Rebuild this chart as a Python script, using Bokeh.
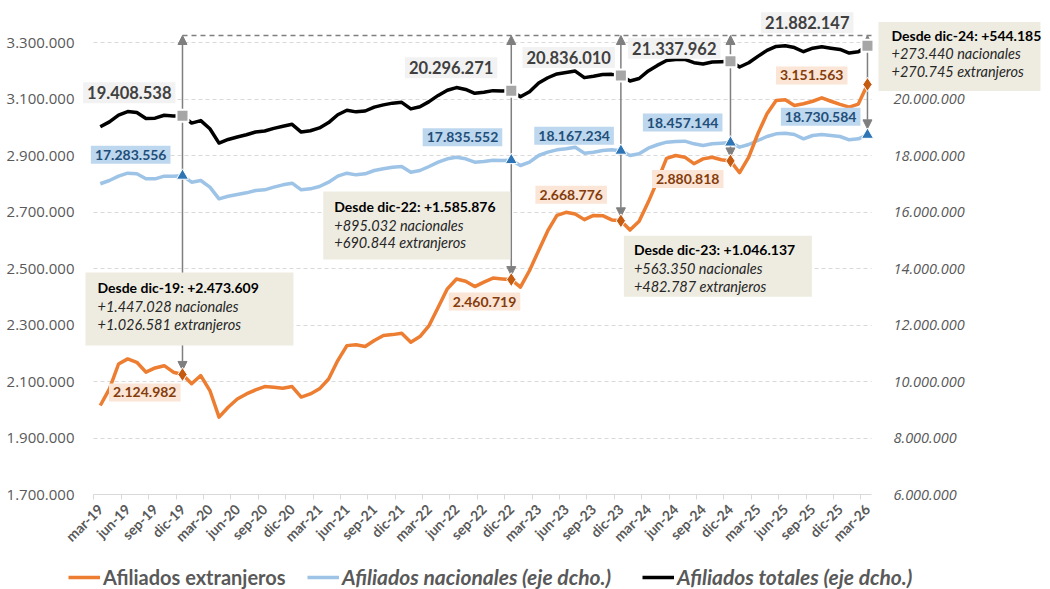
import math
from bokeh.plotting import figure
from bokeh.models import (Range1d, LinearAxis, FixedTicker, Grid, Label, BoxAnnotation,
                          Arrow, NormalHead, Legend, LegendItem)
from bokeh.embed import file_html
from bokeh.resources import INLINE

# ---------------- data ----------------
month_idx = list(range(85))  # mar-19 .. mar-26
tick_labels = ["mar-19", "jun-19", "sep-19", "dic-19", "mar-20", "jun-20", "sep-20", "dic-20",
               "mar-21", "jun-21", "sep-21", "dic-21", "mar-22", "jun-22", "sep-22", "dic-22",
               "mar-23", "jun-23", "sep-23", "dic-23", "mar-24", "jun-24", "sep-24", "dic-24",
               "mar-25", "jun-25", "sep-25", "dic-25", "mar-26"]

ext = [2015000, 2074000, 2162000, 2180000, 2168000, 2133000, 2148000, 2156000, 2133000, 2124982,
       2092000, 2121000, 2068000, 1974000, 2009000, 2038000, 2056000, 2070000, 2082000, 2080000,
       2076000, 2082000, 2045000, 2056000, 2074000, 2109000, 2174000, 2227000, 2230000, 2224000,
       2245000, 2263000, 2266000, 2271000, 2239000, 2259000, 2298000, 2363000, 2428000, 2463000,
       2455000, 2436000, 2452000, 2466000, 2463000, 2460719, 2434000, 2493000, 2564000, 2634000,
       2688000, 2699000, 2693000, 2673000, 2688000, 2687000, 2672000, 2668776, 2636000, 2667000,
       2735000, 2810000, 2890000, 2900000, 2894000, 2871000, 2888000, 2894000, 2885000, 2880818,
       2839000, 2894000, 2977000, 3048000, 3095000, 3097000, 3077000, 3083000, 3092000, 3104000,
       3092000, 3081000, 3071000, 3082000, 3151563]

nac = [17000000, 17115000, 17269000, 17375000, 17351000, 17174000, 17174000, 17269000, 17269000, 17283556,
       17056000, 17115000, 16879000, 16466000, 16559000, 16619000, 16678000, 16761000, 16785000, 16879000,
       16962000, 17021000, 16785000, 16820000, 16902000, 17056000, 17269000, 17375000, 17315000, 17351000,
       17469000, 17528000, 17587000, 17610000, 17410000, 17469000, 17610000, 17764000, 17882000, 17941000,
       17882000, 17764000, 17790000, 17830000, 17820000, 17835552, 17646000, 17764000, 18000000, 18118000,
       18200000, 18236000, 18295000, 18083000, 18118000, 18177000, 18200000, 18167234, 18000000, 18059000,
       18260000, 18380000, 18472000, 18495000, 18507000, 18413000, 18354000, 18413000, 18437000, 18457144,
       18295000, 18389000, 18531000, 18672000, 18767000, 18790000, 18743000, 18590000, 18708000, 18743000,
       18708000, 18672000, 18554000, 18590000, 18730584]

tot = [19015000, 19189000, 19431000, 19555000, 19519000, 19307000, 19322000, 19425000, 19402000, 19408538,
       19148000, 19236000, 18947000, 18440000, 18568000, 18657000, 18734000, 18831000, 18867000, 18959000,
       19038000, 19103000, 18830000, 18876000, 18976000, 19165000, 19443000, 19602000, 19545000, 19575000,
       19714000, 19791000, 19853000, 19881000, 19649000, 19728000, 19908000, 20127000, 20310000, 20404000,
       20337000, 20200000, 20242000, 20296000, 20283000, 20296271, 20080000, 20257000, 20564000, 20752000,
       20888000, 20935000, 20988000, 20756000, 20806000, 20864000, 20872000, 20836010, 20636000, 20726000,
       20995000, 21190000, 21362000, 21395000, 21401000, 21284000, 21242000, 21307000, 21322000, 21337962,
       21134000, 21283000, 21508000, 21720000, 21862000, 21887000, 21820000, 21673000, 21800000, 21847000,
       21800000, 21753000, 21625000, 21672000, 21882147]

left_ticks = [1700000, 1900000, 2100000, 2300000, 2500000, 2700000, 2900000, 3100000, 3300000]
right_ticks = [6000000, 8000000, 10000000, 12000000, 14000000, 16000000, 18000000, 20000000]

mark_idx = [9, 45, 57, 69, 84]

notes = {
    9: ["Desde dic-19: +2.473.609", "+1.447.028 nacionales", "+1.026.581 extranjeros"],
    45: ["Desde dic-22: +1.585.876", "+895.032 nacionales", "+690.844 extranjeros"],
    57: ["Desde dic-23: +1.046.137", "+563.350  nacionales", "+482.787 extranjeros"],
    69: ["Desde dic-24: +544.185", "+273.440  nacionales", "+270.745  extranjeros"],
}

# ---------------- layout constants (screen px -> data) ----------------
W, H = 1050, 589
PL, PR, PB = 93, 871, 494       # plot-area left / right / bottom pixel
PXM = 9.133                     # px per month
XL = -0.744                     # month index at the plot-area left edge
UPP = 1_600_000 / 452           # left-axis units per px
Y0, RY0 = 1_700_000, 6_000_000  # axis minimum at PB


def xv(px):
    return XL + (px - PL) / PXM


def yv(py):
    return Y0 + (PB - py) * UPP


def ryv(py):
    return RY0 + (PB - py) * UPP * 10


TOP, TOPR = yv(35), ryv(35)     # dashed reference line

FONT = "Lato"
GREY_TXT = "#595959"
ORANGE, LBLUE, BLACK = "#ED7D31", "#9DC3E6", "#000000"


def fmt(v):
    return f"{v:,}".replace(",", ".")


p = figure(width=W, height=H, title=None, x_range=Range1d(xv(0), xv(W)),
           y_range=Range1d(yv(H), yv(0)), output_backend="svg", toolbar_location=None,
           x_axis_type=None, y_axis_type=None, min_border=0)
p.extra_y_ranges = {"r": Range1d(ryv(H), ryv(0))}
p.outline_line_color = None
p.background_fill_color = "white"
p.border_fill_color = "white"

# horizontal grid (dashed), limited to the plot area
if "cross_bounds" in Grid.properties():
    p.add_layout(Grid(dimension=1, ticker=FixedTicker(ticks=left_ticks[1:]),
                      cross_bounds=(xv(PL), xv(PR)),
                      grid_line_color="#D9D9D9", grid_line_dash="4 3", grid_line_width=1))
else:
    gt = left_ticks[1:]
    p.segment(x0=[xv(PL)] * len(gt), y0=gt, x1=[xv(PR)] * len(gt), y1=gt,
              line_color="#D9D9D9", line_dash="4 3", line_width=1, level="underlay")

# axes (fixed at the plot-area edges)
lax = LinearAxis(fixed_location=xv(PL), ticker=FixedTicker(ticks=left_ticks),
                 major_label_overrides={t: fmt(t) for t in left_ticks},
                 axis_line_color=None, major_tick_line_color=None, minor_tick_line_color=None,
                 major_label_standoff=13, major_label_text_font="Open Sans",
                 major_label_text_font_size="15px", major_label_text_color=GREY_TXT)
p.add_layout(lax, "left")

rax = LinearAxis(fixed_location=xv(873), y_range_name="r", ticker=FixedTicker(ticks=right_ticks),
                 major_label_overrides={t: fmt(t) for t in right_ticks},
                 axis_line_color=None, major_tick_line_color=None, minor_tick_line_color=None,
                 major_label_standoff=14, major_label_text_font="Open Sans",
                 major_label_text_font_style="italic",
                 major_label_text_font_size="14.5px", major_label_text_color=GREY_TXT)
p.add_layout(rax, "right")

label_pos = [3 * k for k in range(len(tick_labels))]
minor_pos = [3 * k - 0.71 for k in range(len(tick_labels))]
xax = LinearAxis(fixed_location=Y0, bounds=(xv(PL), xv(PR)),
                 ticker=FixedTicker(ticks=label_pos, minor_ticks=minor_pos),
                 major_label_overrides={t: l for t, l in zip(label_pos, tick_labels)},
                 axis_line_color="#D9D9D9", axis_line_width=1,
                 major_tick_line_color=None, major_tick_out=0, major_tick_in=0,
                 minor_tick_line_color="#D9D9D9", minor_tick_out=5, minor_tick_in=0,
                 major_label_orientation=math.pi / 4, major_label_standoff=7,
                 major_label_text_font=FONT, major_label_text_font_style="bold",
                 major_label_text_font_size="14px", major_label_text_color=GREY_TXT)
p.add_layout(xax, "below")

# dashed reference line at top
p.segment(x0=[mark_idx[0]], y0=[TOP], x1=[xv(PR)], y1=[TOP], line_color="#7F7F7F",
          line_dash="5 4", line_width=1.3)

# arrows
AC = "#7F7F7F"
for k in mark_idx[:-1]:
    p.add_layout(Arrow(x_start=k, y_start=ext[k] + 4 * UPP, x_end=k, y_end=TOP,
                       start=NormalHead(size=9, fill_color=AC, line_color=AC),
                       end=NormalHead(size=9, fill_color=AC, line_color=AC),
                       line_color=AC, line_width=1.5, level="underlay"))
k = mark_idx[-1]
p.add_layout(Arrow(x_start=k, y_start=nac[k] + 6 * UPP * 10, x_end=k, y_end=TOPR, y_range_name="r",
                   start=NormalHead(size=9, fill_color=AC, line_color=AC),
                   end=NormalHead(size=9, fill_color=AC, line_color=AC),
                   line_color=AC, line_width=1.5, level="underlay"))

# lines
r_tot = p.line(month_idx, tot, y_range_name="r", line_color=BLACK, line_width=3.5, line_join="round")
r_nac = p.line(month_idx, nac, y_range_name="r", line_color=LBLUE, line_width=3.5, line_join="round")
r_ext = p.line(month_idx, ext, line_color=ORANGE, line_width=3.5, line_join="round")

# markers
p.scatter(mark_idx, [tot[i] for i in mark_idx], y_range_name="r", marker="square", size=12,
          fill_color="#A6A6A6", line_color="white", line_width=2)
p.scatter(mark_idx, [nac[i] for i in mark_idx], y_range_name="r", marker="triangle", size=12,
          fill_color="#2E75B6", line_color="white", line_width=1)
p.scatter(mark_idx, [ext[i] for i in mark_idx], marker="diamond", size=14,
          fill_color="#C55A11", line_color="white", line_width=1)

# value labels (offsets in px: right edge of text, vertical centre; screen-down positive)
tot_off = {9: (-7, -23), 45: (-14, -23), 57: (-6, -18), 69: (-10, -13), 84: (-14, -23)}
nac_off = {9: (-12, -21), 45: (-9, -23), 57: (-7, -15), 69: (-8, -20), 84: (-7, -18)}
ext_off = {9: (-2, 18), 45: (9, 22), 57: (-14, -26), 69: (-7, 18), 84: (-20, -9)}

for series, offs, rng, bg, fg, fs in [
        (tot, tot_off, "r", "#F2F2F2", "#404040", "16.5px"),
        (nac, nac_off, "r", "#BDD7EE", "#1F4E79", "14px"),
        (ext, ext_off, "default", "#FBE5D6", "#843C0C", "14px")]:
    for i in mark_idx:
        dx, dy = offs[i]
        p.add_layout(Label(x=i, y=series[i], y_range_name=rng, text=fmt(series[i]),
                           x_offset=dx, y_offset=-dy, text_align="right", text_baseline="middle",
                           text_font=FONT, text_font_style="bold", text_font_size=fs,
                           text_color=fg, background_fill_color=bg, padding=4))

# annotation boxes (px offsets relative to the foreign-worker point)
note_box = {9: (-97, 111, -102, -29), 45: (-188, -1, -88, -20),
            57: (3, 191, 15, 76), 69: (148, 310, -139, -70)}
note_txt = {9: (-85, [-87, -68, -50]), 45: (-177, [-73, -54, -37]),
            57: (13, [29, 48, 66]), 69: (161, [-125, -107, -89])}
for i, lines in notes.items():
    l, r, t, b = note_box[i]
    p.add_layout(BoxAnnotation(left=i + l / PXM, right=i + r / PXM,
                               top=ext[i] - t * UPP, bottom=ext[i] - b * UPP,
                               fill_color="#EEECE1", fill_alpha=1, line_color=None))
    tx, tys = note_txt[i]
    for j, (txt, ty) in enumerate(zip(lines, tys)):
        p.add_layout(Label(x=i + tx / PXM, y=ext[i], y_offset=-ty, text=txt,
                           text_align="left", text_baseline="middle", text_font=FONT,
                           text_font_style="bold" if j == 0 else "italic",
                           text_font_size="14px" if j == 0 else "14.5px",
                           text_color="#000000" if j == 0 else "#262626"))

# legends (bottom row)
for x, item, style, fs in [
        (68, LegendItem(label="Afiliados extranjeros", renderers=[r_ext]), "bold", "20px"),
        (307, LegendItem(label="Afiliados nacionales (eje dcho.)", renderers=[r_nac]), "bold italic", "21px"),
        (642, LegendItem(label="Afiliados totales (eje dcho.)", renderers=[r_tot]), "bold italic", "21px")]:
    leg = Legend(items=[item], location=(x, 0), orientation="horizontal",
                 label_text_font=FONT, label_text_font_style=style, label_text_font_size=fs,
                 label_text_color=GREY_TXT, glyph_width=32, glyph_height=20, label_standoff=3,
                 padding=0, margin=0, border_line_color=None, background_fill_alpha=0)
    p.add_layout(leg)

open("out.html", "w").write(file_html(p, INLINE))
